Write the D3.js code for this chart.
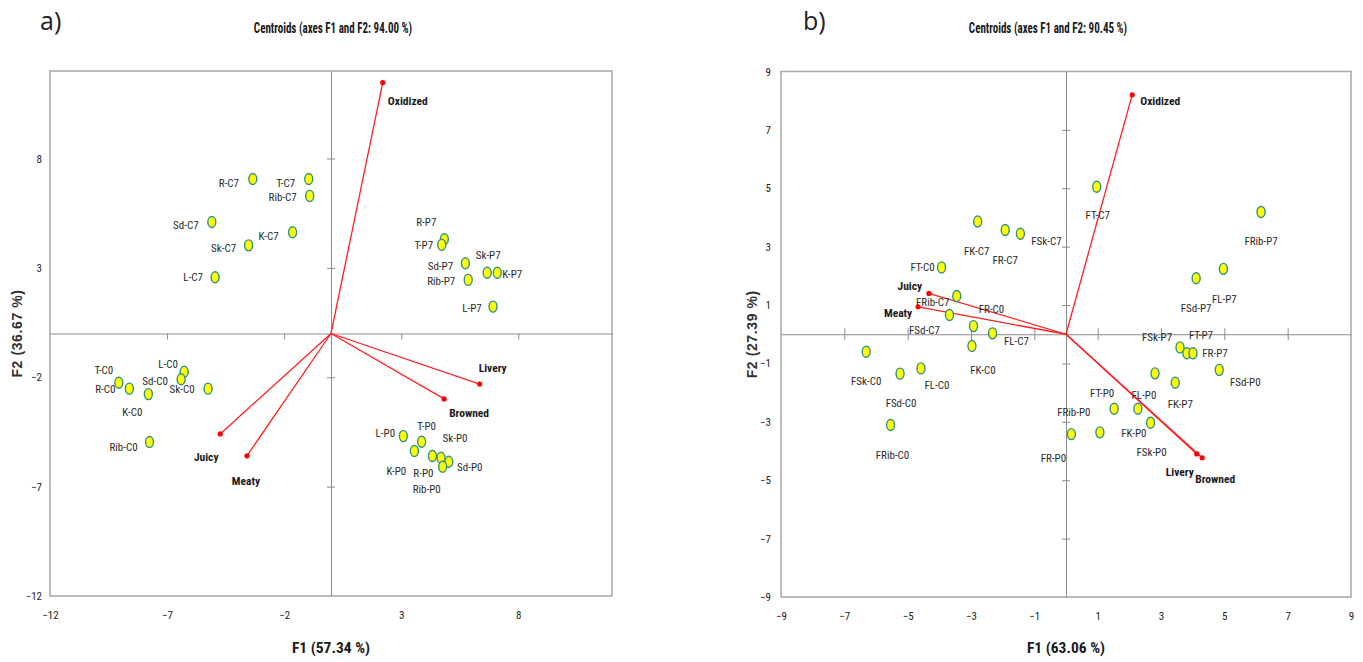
<!DOCTYPE html>
<html>
<head>
<meta charset="utf-8">
<script src="https://cdn.jsdelivr.net/npm/d3@7"></script>
<style>
  html, body { margin: 0; padding: 0; background: #fff; }
  svg { display: block; }
</style>
</head>
<body>
<svg id="chart" width="1363" height="662"></svg>
<script>
// ---------------- Data: panel a ----------------
const obsNamesA = ["R-C7","T-C7","Rib-C7","Sd-C7","K-C7","Sk-C7","L-C7",
  "R-P7","T-P7","Sd-P7","Sk-P7","K-P7","Rib-P7","L-P7",
  "T-C0","R-C0","K-C0","L-C0","Sd-C0","Sk-C0","Rib-C0",
  "L-P0","T-P0","K-P0","R-P0","Sk-P0","Sd-P0","Rib-P0"];
const obsF1A = [-3.34,-0.95,-0.91,-5.09,-1.64,-3.52,-4.95,
  4.84,4.73,5.74,6.67,7.10,5.86,6.92,
  -9.06,-8.61,-7.80,-6.27,-6.40,-5.25,-7.75,
  3.09,3.87,3.56,4.33,4.70,5.03,4.77];
const obsF2A = [7.06,7.06,6.29,5.10,4.63,4.03,2.57,
  4.31,4.05,3.21,2.78,2.78,2.45,1.23,
  -2.25,-2.52,-2.77,-1.75,-2.09,-2.52,-4.96,
  -4.69,-4.95,-5.37,-5.60,-5.68,-5.86,-6.09];
const varNamesA = ["Oxidized","Livery","Browned","Juicy","Meaty"];
const varF1A = [2.21,6.35,4.83,-4.73,-3.59];
const varF2A = [11.47,-2.31,-2.99,-4.59,-5.59];
const ticksA = [-12,-7,-2,3,8];

// ---------------- Data: panel b ----------------
const obsNamesB = ["FT-C7","FRib-P7","FK-C7","FR-C7","FSk-C7","FT-C0","FRib-C7",
  "FSd-C7","FR-C0","FL-C7","FK-C0","FSk-C0","FL-C0","FSd-C0","FRib-C0",
  "FL-P7","FSd-P7","FSk-P7","FT-P7","FR-P7","FSd-P0","FK-P7",
  "FL-P0","FT-P0","FK-P0","FSk-P0","FRib-P0","FR-P0"];
const obsF1B = [0.97,6.16,-2.79,-1.92,-1.44,-3.93,-3.45,
  -3.68,-2.92,-2.32,-2.97,-6.31,-4.58,-5.24,-5.54,
  4.97,4.11,3.60,3.82,4.01,4.84,3.45,
  2.81,1.52,2.27,2.67,1.07,0.17];
const obsF2B = [5.05,4.19,3.86,3.57,3.44,2.29,1.31,
  0.66,0.28,0.03,-0.40,-0.60,-1.17,-1.35,-3.11,
  2.24,1.92,-0.45,-0.65,-0.65,-1.22,-1.66,
  -1.34,-2.55,-2.55,-3.03,-3.36,-3.42];
const varNamesB = ["Oxidized","Juicy","Meaty","Livery","Browned"];
const varF1B = [2.09,-4.33,-4.67,4.13,4.30];
const varF2B = [8.20,1.40,0.94,-4.10,-4.23];
const ticksB = [-9,-7,-5,-3,-1,1,3,5,7,9];

// ---------------- Layout (label offsets in px, not data) ----------------
const labelOffA = {
  "R-C7":[-24,4],"T-C7":[-23,4],"Rib-C7":[-27,2],"Sd-C7":[-26,4],"K-C7":[-24,4],"Sk-C7":[-25,3],"L-C7":[-22,0],
  "R-P7":[-18,-17],"T-P7":[-18,1],"Sd-P7":[-25,3],"Sk-P7":[1,-17],"K-P7":[15,2],"Rib-P7":[-27,2],"L-P7":[-21,2],
  "T-C0":[-15,-12],"R-C0":[-24,1],"K-C0":[-16,18],"L-C0":[-16,-7],"Sd-C0":[-26,2],"Sk-C0":[-26,1],"Rib-C0":[-26,5],
  "L-P0":[-18,-3],"T-P0":[5,-15],"K-P0":[-18,21],"R-P0":[-9,17],"Sk-P0":[14,-19],"Sd-P0":[21,6],"Rib-P0":[-16,23]
};
const varOffA = {"Oxidized":[25,18],"Livery":[13,-16],"Browned":[25,14],"Juicy":[-14,23],"Meaty":[-1,25]};
const labelOffB = {
  "FT-C7":[1,29],"FRib-P7":[0,30],"FK-C7":[-1,30],"FR-C7":[0,30],"FSk-C7":[26,8],"FT-C0":[-19,0],"FRib-C7":[-24,6],
  "FSd-C7":[-25,16],"FR-C0":[18,-17],"FL-C7":[24,8],"FK-C0":[11,25],"FSk-C0":[0,30],"FL-C0":[16,17],"FSd-C0":[1,30],"FRib-C0":[2,30],
  "FL-P7":[1,31],"FSd-P7":[0,30],"FSk-P7":[-23,-10],"FT-P7":[14,-18],"FR-P7":[22,0],"FSd-P0":[26,13],"FK-P7":[5,22],
  "FL-P0":[-11,22],"FT-P0":[-12,-15],"FK-P0":[-4,25],"FSk-P0":[1,30],"FRib-P0":[-26,-20],"FR-P0":[-18,24]
};
const varOffB = {"Oxidized":[28,6],"Juicy":[-19,-7],"Meaty":[-20,6],"Livery":[-17,18],"Browned":[13,21]};

const svg = d3.select("#chart");
const FONT = "'Liberation Sans Narrow', 'Roboto Condensed', 'DejaVu Sans Condensed', sans-serif";

function panel(cfg) {
  const x = d3.scaleLinear().domain(cfg.xDomain).range([cfg.left, cfg.right]);
  const y = d3.scaleLinear().domain(cfg.yDomain).range([cfg.bottom, cfg.top]);
  const g = svg.append("g");

  // panel letter + title
  g.append("text").attr("x", cfg.letterX).attr("y", 30)
    .attr("font-family", "'Open Sans', 'DejaVu Sans', sans-serif").attr("font-size", 25)
    .attr("fill", "#222").text(cfg.letter);
  g.append("text").attr("transform", `translate(${cfg.titleX},33) scale(0.76,1)`).attr("text-anchor", "middle")
    .attr("font-family", FONT).attr("font-weight", "bold").attr("font-size", 14.5)
    .attr("fill", "#1a1a1a").text(cfg.title);

  // frame
  g.append("rect").attr("x", cfg.left).attr("y", cfg.top)
    .attr("width", cfg.right - cfg.left).attr("height", cfg.bottom - cfg.top)
    .attr("fill", "none").attr("stroke", "#a6a6a6").attr("stroke-width", 1.5);

  // zero axes with ticks via d3 axes
  const xAxis = d3.axisBottom(x).tickValues(cfg.ticks.filter(t => t > cfg.xDomain[0] && t < cfg.xDomain[1]))
    .tickSizeInner(cfg.tickLen).tickSizeOuter(0).tickFormat("");
  const xa = g.append("g").attr("transform", `translate(0,${y(0)})`).call(xAxis);
  xa.select(".domain").attr("stroke", "#8c8c8c");
  xa.selectAll(".tick line").attr("stroke", "#8c8c8c")
    .attr("y1", cfg.tickBoth ? -cfg.tickLen / 2 : 0).attr("y2", cfg.tickBoth ? cfg.tickLen / 2 : cfg.tickLen);

  const yAxis = d3.axisLeft(y).tickValues(cfg.ticks.filter(t => t > cfg.yDomain[0] && t < cfg.yDomain[1]))
    .tickSizeInner(cfg.tickLen).tickSizeOuter(0).tickFormat("");
  const ya = g.append("g").attr("transform", `translate(${x(0)},0)`).call(yAxis);
  ya.select(".domain").attr("stroke", "#8c8c8c");
  ya.selectAll(".tick line").attr("stroke", "#8c8c8c").attr("x1", -4).attr("x2", 4);

  // tick labels at frame
  const xl = d3.axisBottom(x).tickValues(cfg.ticks).tickSize(0).tickPadding(15);
  const xlg = g.append("g").attr("transform", `translate(0,${cfg.bottom})`).call(xl);
  xlg.select(".domain").remove();
  xlg.selectAll("text").attr("font-family", FONT).attr("font-size", 11).attr("fill", "#222");

  const yl = d3.axisLeft(y).tickValues(cfg.ticks).tickSize(0).tickPadding(cfg.yPad);
  const ylg = g.append("g").attr("transform", `translate(${cfg.left},0)`).call(yl);
  ylg.select(".domain").remove();
  ylg.selectAll("text").attr("font-family", FONT).attr("font-size", 11).attr("fill", "#222");

  // axis titles
  g.append("text").attr("x", x(0)).attr("y", 653).attr("text-anchor", "middle")
    .attr("font-family", FONT).attr("font-weight", "bold").attr("font-size", 15.5)
    .attr("fill", "#1a1a1a").text(cfg.xTitle);
  g.append("text").attr("transform", `translate(${cfg.yTitleX},${(cfg.top + cfg.bottom) / 2}) rotate(-90)`)
    .attr("text-anchor", "middle").attr("font-family", "'Liberation Sans', Arial, sans-serif")
    .attr("font-weight", "bold").attr("font-size", 14).attr("letter-spacing", 0.6)
    .attr("fill", "#333").text(cfg.yTitle);

  // variable vectors
  const vars = cfg.varNames.map((n, i) => ({ n, f1: cfg.varF1[i], f2: cfg.varF2[i] }));
  g.selectAll(".vec").data(vars).enter().append("line")
    .attr("x1", x(0)).attr("y1", y(0))
    .attr("x2", d => x(d.f1)).attr("y2", d => y(d.f2))
    .attr("stroke", "#ff2020").attr("stroke-width", 1.3);
  g.selectAll(".vdot").data(vars).enter().append("circle")
    .attr("cx", d => x(d.f1)).attr("cy", d => y(d.f2)).attr("r", 2.6).attr("fill", "#ff0000");
  g.selectAll(".vlab").data(vars).enter().append("text")
    .attr("x", d => x(d.f1) + cfg.varOff[d.n][0]).attr("y", d => y(d.f2) + cfg.varOff[d.n][1])
    .attr("text-anchor", "middle").attr("dominant-baseline", "central")
    .attr("font-family", FONT).attr("font-weight", "bold").attr("font-size", 11.5)
    .attr("fill", "#1a1a1a").text(d => d.n);

  // observations
  const obs = cfg.obsNames.map((n, i) => ({ n, f1: cfg.obsF1[i], f2: cfg.obsF2[i] }));
  g.selectAll(".olab").data(obs).enter().append("text")
    .attr("x", d => x(d.f1) + cfg.labelOff[d.n][0]).attr("y", d => y(d.f2) + cfg.labelOff[d.n][1])
    .attr("text-anchor", "middle").attr("dominant-baseline", "central")
    .attr("font-family", FONT).attr("font-size", 11)
    .attr("fill", "#2a2a2a").text(d => d.n);
  g.selectAll(".pt").data(obs).enter().append("ellipse")
    .attr("cx", d => x(d.f1)).attr("cy", d => y(d.f2)).attr("rx", 4).attr("ry", 5.5)
    .attr("fill", "#ffff00").attr("stroke", "#2f8f8a").attr("stroke-width", 1.4);
}

panel({
  letter: "a)", letterX: 40, title: "Centroids  (axes F1 and F2: 94.00 %)", titleX: 333,
  xDomain: [-12, 12], yDomain: [-12, 12], left: 50, right: 612, top: 71, bottom: 596,
  ticks: ticksA, tickLen: 6, tickBoth: false, yPad: 8,
  xTitle: "F1 (57.34 %)", yTitle: "F2 (36.67 %)", yTitleX: 22,
  obsNames: obsNamesA, obsF1: obsF1A, obsF2: obsF2A, labelOff: labelOffA,
  varNames: varNamesA, varF1: varF1A, varF2: varF2A, varOff: varOffA
});

panel({
  letter: "b)", letterX: 803, title: "Centroids  (axes F1 and F2: 90.45 %)", titleX: 1048,
  xDomain: [-9, 9], yDomain: [-9, 9], left: 781, right: 1351, top: 71.5, bottom: 597,
  ticks: ticksB, tickLen: 12, tickBoth: true, yPad: 10,
  xTitle: "F1 (63.06 %)", yTitle: "F2 (27.39 %)", yTitleX: 757,
  obsNames: obsNamesB, obsF1: obsF1B, obsF2: obsF2B, labelOff: labelOffB,
  varNames: varNamesB, varF1: varF1B, varF2: varF2B, varOff: varOffB
});
</script>
</body>
</html>
